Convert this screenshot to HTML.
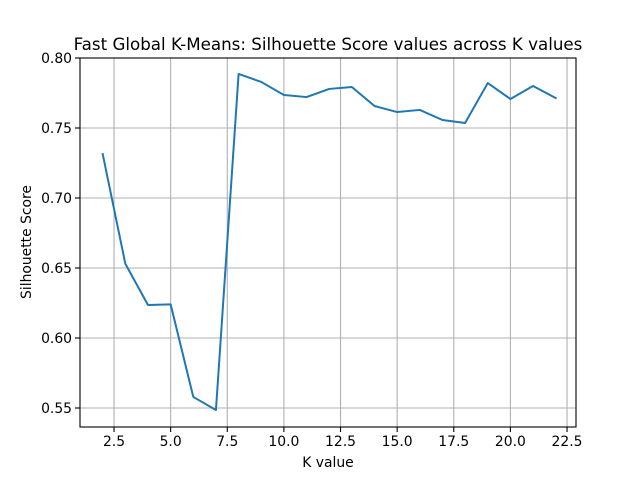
<!DOCTYPE html>
<html><head><meta charset="utf-8"><style>
body{margin:0;background:#fff;}
svg{display:block;font-family:"DejaVu Sans","Liberation Sans",sans-serif;}
</style></head><body>
<svg id="chart" width="640" height="480">
<rect width="640" height="480" fill="#fff"/>
<text x="328" y="50" text-anchor="middle" font-size="16.7">Fast Global K-Means: Silhouette Score values across K values</text>
<text x="328" y="467" text-anchor="middle" font-size="13.9">K value</text>
<text x="31" y="242" text-anchor="middle" font-size="13.9" transform="rotate(-90 31 242)">Silhouette Score</text>
<g id="grid"></g><g id="ticks"></g><g id="series"></g>
<rect x="80" y="58" width="496" height="369" fill="none" stroke="#000" stroke-width="1.1"/>
</svg>
<script>
const kValues=[2,3,4,5,6,7,8,9,10,11,12,13,14,15,16,17,18,19,20,21,22];
const scores=[0.7314,0.653,0.6236,0.624,0.5579,0.5486,0.7886,0.7829,0.7736,0.7721,0.7779,0.7793,0.7657,0.7614,0.7629,0.7557,0.7536,0.7821,0.7707,0.78,0.7714];
const xTicks=[2.5,5.0,7.5,10.0,12.5,15.0,17.5,20.0,22.5];
const yTicks=[0.55,0.60,0.65,0.70,0.75,0.80];
const NS="http://www.w3.org/2000/svg";
const xs=v=>102.7+(v-2)*22.65;
const ys=v=>58+(0.80-v)*1400;
const grid=document.getElementById('grid'),ticks=document.getElementById('ticks'),series=document.getElementById('series');
function mk(tag,attrs,parent){const e=document.createElementNS(NS,tag);for(const k in attrs)e.setAttribute(k,attrs[k]);parent.appendChild(e);return e;}
xTicks.forEach(t=>{const x=xs(t);
const g=mk('line',{x1:x,x2:x,y1:58,y2:427,stroke:'#b0b0b0','stroke-width':1.1},grid);


mk('line',{x1:x,x2:x,y1:427,y2:432,stroke:'#000','stroke-width':1.1},ticks);
const l=mk('text',{x:x,y:446,'text-anchor':'middle','font-size':13.9},ticks);l.textContent=t.toFixed(1);

});
yTicks.forEach(t=>{const y=ys(t);
const g=mk('line',{x1:80,x2:576,y1:y,y2:y,stroke:'#b0b0b0','stroke-width':1.1},grid);


mk('line',{x1:75,x2:80,y1:y,y2:y,stroke:'#000','stroke-width':1.1},ticks);
const l=mk('text',{x:72,y:y+5,'text-anchor':'end','font-size':13.9},ticks);l.textContent=t.toFixed(2);

});
const p=mk('polyline',{points:kValues.map((k,i)=>xs(k)+','+ys(scores[i])).join(' '),fill:'none',stroke:'#1f77b4','stroke-width':2,'stroke-linejoin':'round','stroke-linecap':'square'},series);


</script>
</body></html>
